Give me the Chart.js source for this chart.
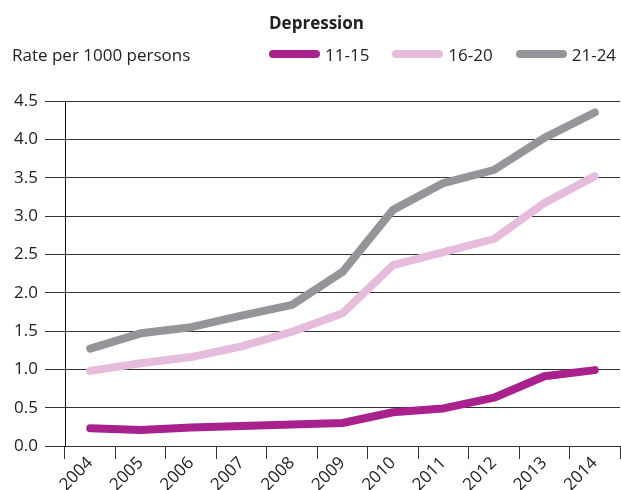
<!DOCTYPE html>
<html>
<head>
<meta charset="utf-8">
<script src="https://cdn.jsdelivr.net/npm/chart.js@4"></script>
<style>
  html, body { margin: 0; padding: 0; background: #fff; }
  #wrap { position: relative; width: 621px; height: 490px; font-family: 'Open Sans', sans-serif; color: #222; }
  #chart { position: absolute; left: 0; top: 0; }
  .title { position: absolute; left: 0; width: 633px; top: 11px; text-align: center; font-weight: bold; font-size: 17px; }
  .unit { position: absolute; left: 12px; top: 43px; font-size: 17px; }
  .legend { position: absolute; left: 269px; top: 43px; font-size: 17px; white-space: nowrap; }
  .legend span.item { display: inline-block; margin-right: 23px; }
  .legend span.bar { display: inline-block; width: 51px; height: 8px; border-radius: 4px; vertical-align: 3px; margin-right: 5px; }
</style>
</head>
<body>
<div id="wrap">
  <canvas id="chart" width="621" height="490"></canvas>
  <div class="title">Depression</div>
  <div class="unit">Rate per 1000 persons</div>
  <div class="legend" id="legend"></div>
</div>
<script>
// ---------- Data ----------
const YEARS = ['2004', '2005', '2006', '2007', '2008', '2009', '2010', '2011', '2012', '2013', '2014'];
const AGE_11_15 = [0.23, 0.21, 0.24, 0.26, 0.28, 0.30, 0.44, 0.49, 0.63, 0.91, 0.99];
const AGE_16_20 = [0.98, 1.08, 1.16, 1.30, 1.49, 1.73, 2.36, 2.53, 2.70, 3.17, 3.52];
const AGE_21_24 = [1.27, 1.47, 1.55, 1.70, 1.84, 2.27, 3.08, 3.43, 3.60, 4.02, 4.35];
const SERIES_NAMES = ['11-15', '16-20', '21-24'];
const COLORS = ['#a8218c', '#e6bcdd', '#939598'];

const gridColor = '#333';
const tickFont = { family: 'Open Sans', size: 17 };

// ---------- Legend (html) ----------
const legendEl = document.getElementById('legend');
SERIES_NAMES.forEach((name, i) => {
  const item = document.createElement('span');
  item.className = 'item';
  item.innerHTML = `<span class="bar" style="background:${COLORS[i]}"></span>${name}`;
  legendEl.appendChild(item);
});

// ---------- Chart ----------
const seriesData = [AGE_11_15, AGE_16_20, AGE_21_24];

new Chart(document.getElementById('chart'), {
  type: 'line',
  data: {
    labels: YEARS,
    datasets: seriesData.map((vals, i) => ({
      label: SERIES_NAMES[i],
      data: vals,
      borderColor: COLORS[i],
      backgroundColor: COLORS[i],
      borderWidth: 8,
      borderCapStyle: 'round',
      borderJoinStyle: 'round',
      pointRadius: 0,
      tension: 0,
      fill: false
    }))
  },
  options: {
    responsive: false,
    animation: false,
    layout: { padding: { top: 101, right: 1, left: 0, bottom: 0 } },
    plugins: { legend: { display: false }, tooltip: { enabled: false } },
    scales: {
      x: {
        type: 'category',
        offset: true,
        afterFit: (s) => { s.height = 44; },
        grid: { offset: true, drawOnChartArea: false, drawTicks: true, tickLength: 13, color: gridColor },
        border: { display: true, color: gridColor },
        ticks: { font: tickFont, color: '#222', minRotation: 45, maxRotation: 45, padding: -6, autoSkip: false }
      },
      y: {
        min: 0,
        max: 4.5,
        afterFit: (s) => { s.width = 65; },
        grid: { color: gridColor, tickLength: 20, drawTicks: true },
        border: { display: true, color: '#111' },
        ticks: { stepSize: 0.5, font: tickFont, color: '#222', padding: 7, callback: (v) => v.toFixed(1) }
      }
    }
  }
});
</script>
</body>
</html>
